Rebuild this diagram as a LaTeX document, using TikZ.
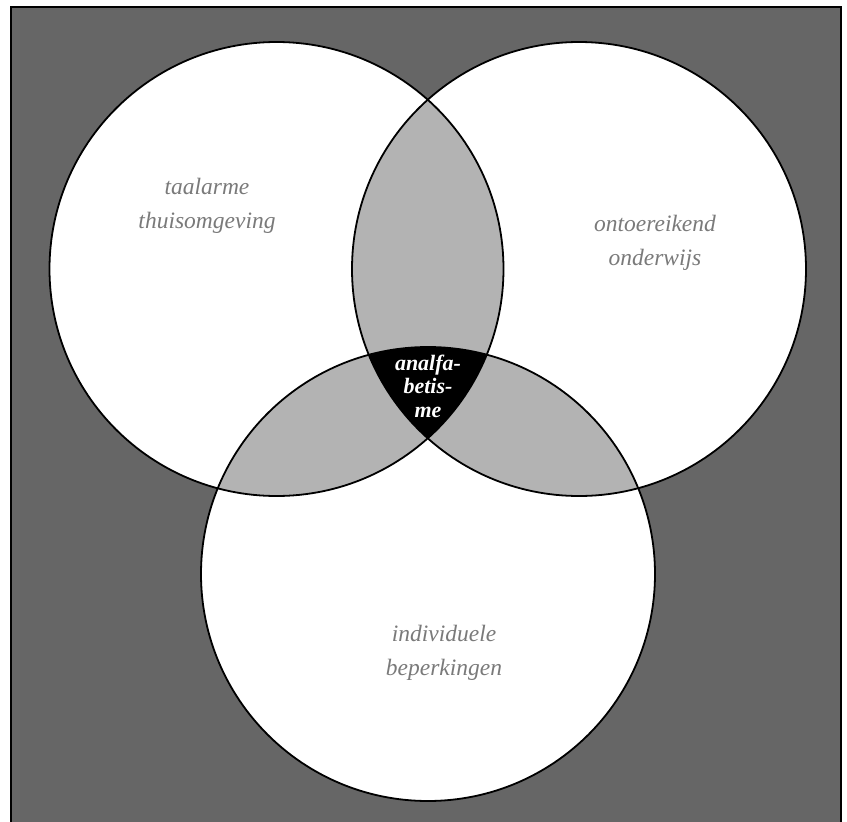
\documentclass[tikz,border=0pt]{standalone}
\usepackage{fontspec}
\setmainfont{Liberation Serif}
\definecolor{bg}{HTML}{666666}
\definecolor{lens}{HTML}{B3B3B3}
\definecolor{txt}{HTML}{7A7A7A}
\begin{document}
\begin{tikzpicture}[x=1pt,y=-1pt,
  ring/.style={draw=black,line width=1.8pt},
  lbl/.style={text=txt,font=\fontsize{23.5}{34}\selectfont\itshape,align=center,anchor=base,inner sep=0pt},
  core/.style={text=white,font=\fontsize{22}{23.5}\selectfont\bfseries\itshape,align=center,anchor=base,inner sep=0pt}]
\useasboundingbox (0,0) rectangle (847,822);
\clip (0,0) rectangle (847,822);
\draw[fill=bg,line width=1.5pt] (11,7) rectangle (841,840);
\coordinate (cl) at (276.5,269);
\coordinate (cr) at (579,269);
\coordinate (cb) at (428,574);
\def\rad{227}
% white discs
\fill[white] (cl) circle (\rad) (cr) circle (\rad) (cb) circle (\rad);
% pairwise lenses
\begin{scope}\clip (cl) circle (\rad); \fill[lens] (cr) circle (\rad); \fill[lens] (cb) circle (\rad);\end{scope}
\begin{scope}\clip (cr) circle (\rad); \fill[lens] (cb) circle (\rad);\end{scope}
% triple
\begin{scope}\clip (cl) circle (\rad); \clip (cr) circle (\rad); \fill[black] (cb) circle (\rad);\end{scope}
% outlines
\draw[ring] (cl) circle (\rad);
\draw[ring] (cr) circle (\rad);
\draw[ring] (cb) circle (\rad);
% labels (anchor = baseline of last line)
\node[lbl] (tl) at (207,228) {taalarme\\thuisomgeving};
\node[lbl] (tr) at (655,265) {ontoereikend\\onderwijs};
\node[lbl] (tb) at (444,675) {individuele\\beperkingen};
\node[core] (tc) at (428,417) {analfa-\\betis-\\me};
\end{tikzpicture}
\end{document}
